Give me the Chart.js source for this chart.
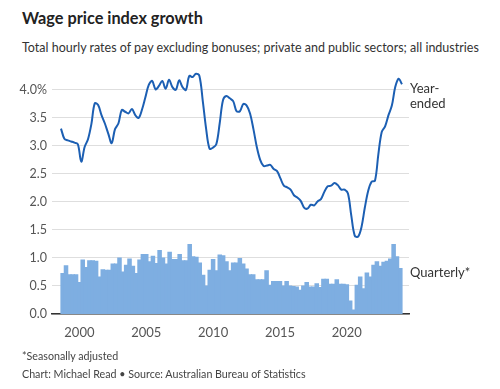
<!DOCTYPE html>
<html>
<head>
<meta charset="utf-8">
<script src="https://cdn.jsdelivr.net/npm/chart.js@4.4.1/dist/chart.umd.min.js"></script>
<style>
  body { margin: 0; width: 500px; height: 389px; background: #fff; position: relative; overflow: hidden;
         font-family: Lato, sans-serif; color: #222; }
  #title { position: absolute; left: 22px; top: 8px; font-size: 16.3px; font-weight: bold; line-height: 20px; }
  #subtitle { position: absolute; left: 22px; top: 39px; font-size: 12.5px; line-height: 18px; color: #333; white-space: nowrap; }
  #wrap { position: absolute; left: 0; top: 55px; width: 500px; height: 295px; }
  .note { position: absolute; left: 22px; font-size: 10.7px; line-height: 15px; color: #444; white-space: nowrap; }
</style>
</head>
<body>
<div id="title">Wage price index growth</div>
<div id="subtitle">Total hourly rates of pay excluding bonuses; private and public sectors; all industries</div>
<div id="wrap"><canvas id="wpi"></canvas></div>
<div class="note" style="top:348px">*Seasonally adjusted</div>
<div class="note" style="top:366px">Chart: Michael Read • Source: Australian Bureau of Statistics</div>
<script>
// quarters run Dec 1998 .. Mar 2024 (102 quarters)
const firstQuarter = 'Dec 1998';
const yearLabels = ['2000', '2005', '2010', '2015', '2020'];

// year-ended growth, %
const yearEnded = [
  3.31, 3.13, 3.10, 3.08, 3.06, 3.03, 2.72, 2.98, 3.12, 3.39, 3.76, 3.73,
  3.55, 3.40, 3.22, 3.05, 3.30, 3.40, 3.64, 3.61, 3.58, 3.66, 3.55, 3.50,
  3.65, 3.87, 4.09, 4.16, 4.01, 4.07, 4.16, 4.02, 4.18, 4.05, 4.00, 4.17,
  4.05, 4.00, 4.25, 4.23, 4.29, 4.25, 3.80, 3.30, 2.95, 2.97, 3.03, 3.40,
  3.82, 3.89, 3.85, 3.80, 3.62, 3.62, 3.75, 3.72, 3.58, 3.30, 2.98, 2.75,
  2.64, 2.65, 2.66, 2.59, 2.55, 2.42, 2.29, 2.26, 2.22, 2.12, 2.08, 2.02,
  1.90, 1.88, 1.95, 1.94, 2.01, 2.05, 2.18, 2.28, 2.29, 2.34, 2.30, 2.22,
  2.22, 2.15, 1.75, 1.40, 1.38, 1.55, 1.90, 2.20, 2.36, 2.38, 2.85, 3.25,
  3.35, 3.55, 3.72, 4.05, 4.20, 4.10
];

// quarterly growth (seasonally adjusted), %
const quarterly = [
  0.72, 0.86, 0.70, 0.70, 0.70, 0.56, 0.96, 0.83, 0.95, 0.95, 0.94, 0.66,
  0.79, 0.78, 0.78, 0.89, 0.89, 1.00, 0.75, 0.87, 0.98, 0.85, 0.72, 0.96,
  1.06, 1.06, 0.93, 1.03, 0.90, 1.13, 1.00, 0.89, 1.10, 0.97, 0.97, 1.06,
  0.95, 0.95, 1.24, 1.02, 1.01, 0.91, 0.69, 0.50, 0.78, 0.97, 0.77, 1.05,
  1.04, 0.93, 0.77, 0.91, 0.91, 0.99, 0.89, 0.80, 0.70, 0.70, 0.61, 0.61,
  0.61, 0.77, 0.51, 0.58, 0.58, 0.58, 0.50, 0.58, 0.50, 0.49, 0.48, 0.42,
  0.50, 0.56, 0.48, 0.48, 0.54, 0.47, 0.62, 0.62, 0.53, 0.53, 0.61, 0.53,
  0.53, 0.52, 0.23, 0.07, 0.51, 0.66, 0.45, 0.73, 0.66, 0.87, 0.93, 0.85,
  0.92, 0.94, 0.98, 1.24, 1.02, 0.81
];

const yTicks = [0, 0.5, 1, 1.5, 2, 2.5, 3, 3.5, 4];

const n = quarterly.length;
// Mar quarter of each labelled year, counted from Dec 1998
const yearPos = yearLabels.map(y => (Number(y) - 2000) * 4 + 5);

const barData = quarterly.map((v, i) => ({ x: i, y: v }));
const lineData = yearEnded.map((v, i) => ({ x: -0.5 + i * n / (yearEnded.length - 1), y: v }));

const seriesLabels = {
  id: 'seriesLabels',
  afterDraw(chart) {
    const { ctx, chartArea, scales } = chart;
    const y = scales.y;
    ctx.save();
    ctx.font = '13px Lato';
    ctx.fillStyle = '#333';
    ctx.textBaseline = 'middle';
    const x = chartArea.right + 1;
    ctx.fillText('Year-', x, y.getPixelForValue(4.02));
    ctx.fillText('ended', x, y.getPixelForValue(3.76));
    ctx.fillText('Quarterly*', x, y.getPixelForValue(0.74));
    ctx.restore();
  }
};

new Chart(document.getElementById('wpi'), {
  data: {
    datasets: [
      {
        type: 'line',
        label: 'Year-ended',
        data: lineData,
        borderColor: '#1c5fb3',
        borderWidth: 2,
        pointRadius: 0,
        tension: 0.35,
        fill: false
      },
      {
        type: 'bar',
        label: 'Quarterly*',
        data: barData,
        backgroundColor: '#7eaee1',
        borderWidth: 0,
        inflateAmount: 0.6,
        barPercentage: 1,
        categoryPercentage: 1
      }
    ]
  },
  options: {
    responsive: true,
    maintainAspectRatio: false,
    animation: false,
    layout: { padding: { left: 0, right: 91, top: 0, bottom: 0 } },
    plugins: { legend: { display: false }, tooltip: { enabled: false } },
    scales: {
      x: {
        type: 'linear',
        offset: false,
        min: -3.19,
        max: 103.6,
        afterBuildTicks: s => { s.ticks = yearPos.map(v => ({ value: v })); },
        afterFit: s => { s.height = 36; },
        grid: { display: false, offset: false },
        border: { display: true, color: '#333', width: 1.5 },
        ticks: {
          color: '#555',
          font: { family: 'Lato', size: 13 },
          padding: 3,
          maxRotation: 0,
          callback: (v, i) => yearLabels[i]
        }
      },
      y: {
        min: 0,
        max: 4.4,
        z: 1,
        afterBuildTicks: s => { s.ticks = yTicks.map(v => ({ value: v })); },
        afterFit: s => { s.width = 52; },
        grid: { color: 'rgba(0,0,0,0.13)', drawTicks: false },
        border: { display: false },
        ticks: {
          color: '#555',
          font: { family: 'Lato', size: 12.5 },
          padding: 5,
          callback: v => v === 4 ? '4.0%' : v.toFixed(1)
        }
      }
    }
  },
  plugins: [seriesLabels]
});
</script>
</body>
</html>
